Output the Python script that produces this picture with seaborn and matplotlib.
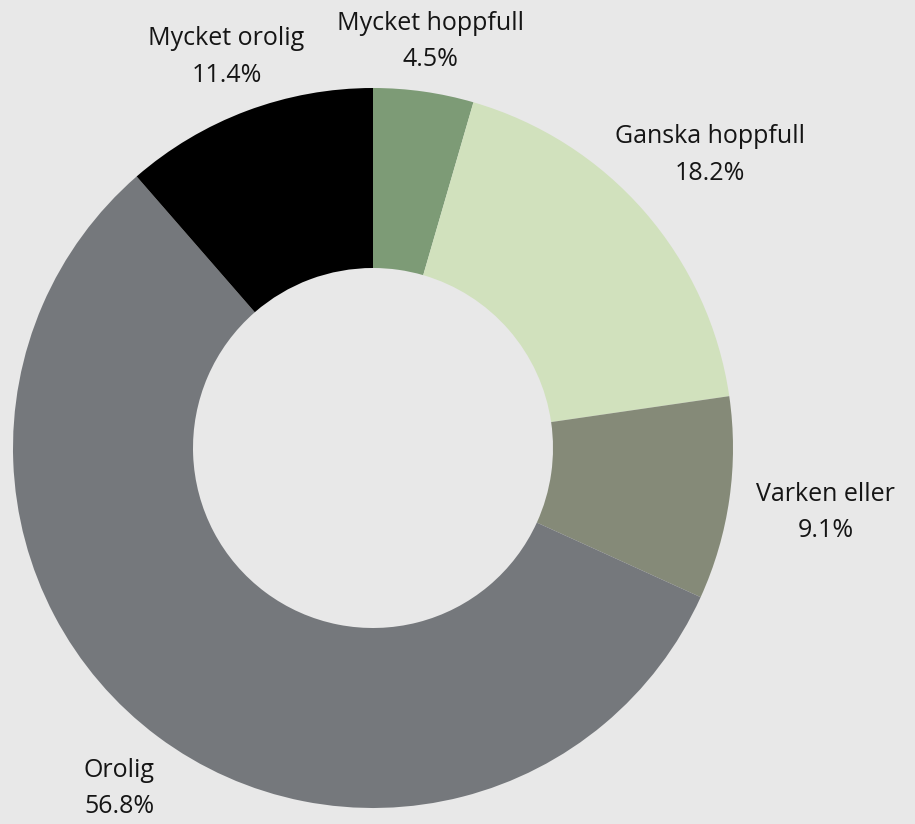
import matplotlib
matplotlib.use("Agg")
import matplotlib.pyplot as plt
import seaborn as sns
import numpy as np

categories = ["Mycket hoppfull", "Ganska hoppfull", "Varken eller", "Orolig", "Mycket orolig"]
values = [4.5, 18.2, 9.1, 56.8, 11.4]
colors = ["#7d9b76", "#d1e1bd", "#858a78", "#75787c", "#000000"]
label_radius = [1.14, 1.24, 1.27, 1.18, 1.16]

sns.set_theme(style="white")
plt.rcParams['font.family'] = ['Open Sans', 'DejaVu Sans']

W, H = 915, 824
fig = plt.figure(figsize=(W / 100, H / 100), dpi=100, facecolor="#e8e8e8")
ax = fig.add_axes([0, 0, 1, 1])
ax.set_facecolor("#e8e8e8")
ax.axis("off")

cx, cy, R = 373, 448, 360
wedges, _ = ax.pie(values, colors=colors, startangle=90, counterclock=False,
                   center=(cx, -cy), radius=R,
                   wedgeprops=dict(width=R * 0.5, linewidth=0))
for w in wedges:
    w.set_transform(matplotlib.transforms.Affine2D().scale(1, -1) + ax.transData)

for w, cat, val, r in zip(wedges, categories, values, label_radius):
    ang = np.deg2rad((w.theta1 + w.theta2) / 2)
    x = cx + r * R * np.cos(ang)
    y = cy - r * R * np.sin(ang)
    ax.text(x, y, f"{cat}\n{val:.1f}%", ha="center", va="center",
            fontsize=18, color="#151515", linespacing=1.6, fontweight="normal")

ax.set_xlim(0, W)
ax.set_ylim(H, 0)
ax.set_aspect("equal")
fig.savefig("out.png", dpi=100, facecolor=fig.get_facecolor())
